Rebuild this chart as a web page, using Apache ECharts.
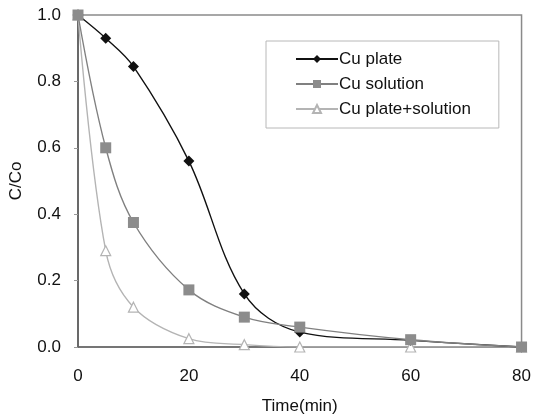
<!DOCTYPE html>
<html>
<head>
<meta charset="utf-8">
<script src="https://cdn.jsdelivr.net/npm/echarts@6/dist/echarts.min.js"></script>
<style>html,body{margin:0;padding:0;background:#fff}#c{width:534px;height:420px}</style>
</head>
<body>
<div id="c"></div>
<script>
var times = [0, 5, 10, 20, 30, 40, 60, 80];
var cuPlate = [1.0, 0.93, 0.845, 0.56, 0.16, 0.045, 0.02, 0.0];
var cuSolution = [1.0, 0.60, 0.375, 0.172, 0.09, 0.06, 0.022, 0.0];
var cuPlateSolution = [1.0, 0.29, 0.12, 0.025, 0.007, 0.0, 0.0, 0.0];
var seriesNames = ['Cu plate', 'Cu solution', 'Cu plate+solution'];
var xTicks = [0, 20, 40, 60, 80];
var yTicks = [0.0, 0.2, 0.4, 0.6, 0.8, 1.0];

function pairs(vals) { return times.map(function (t, i) { return [t, vals[i]]; }); }

var chart = echarts.init(document.getElementById('c'), null, {renderer: 'canvas'});
var font = 'Liberation Sans, Arial, sans-serif';
chart.setOption({
  animation: false,
  backgroundColor: '#fff',
  grid: {left: 78, right: 10, top: 15, bottom: 72, show: true, borderColor: '#8a8a8a', borderWidth: 1.5},
  legend: {
    orient: 'vertical', left: 266, top: 41, width: 233,
    padding: [9, 28, 10, 29],
    itemGap: 7, itemWidth: 42, itemHeight: 10,
    borderColor: '#b8b8b8', borderWidth: 1,
    textStyle: {fontFamily: font, fontSize: 17, color: '#111', padding: [0, 0, 0, -4], lineHeight: 18},
    data: seriesNames
  },
  xAxis: {
    type: 'value', min: 0, max: 80, interval: 20,
    name: 'Time(min)', nameLocation: 'middle', nameGap: 51,
    nameTextStyle: {fontFamily: font, fontSize: 17, color: '#111'},
    axisLine: {lineStyle: {color: '#666', width: 1.5}},
    axisTick: {show: false},
    splitLine: {show: false},
    axisLabel: {fontFamily: font, fontSize: 17, color: '#111', margin: 21}
  },
  yAxis: {
    type: 'value', min: 0, max: 1, interval: 0.2,
    name: 'C/Co', nameLocation: 'middle', nameGap: 53, nameRotate: 90,
    nameTextStyle: {fontFamily: font, fontSize: 17, color: '#111'},
    axisLine: {show: true, lineStyle: {color: '#555', width: 1.5}},
    axisTick: {show: true, length: 4, lineStyle: {color: '#999'}},
    splitLine: {show: false},
    axisLabel: {fontFamily: font, fontSize: 17, color: '#111', margin: 17,
      formatter: function (v) { return v.toFixed(1); }}
  },
  series: [
    {
      name: seriesNames[0], type: 'line', smooth: 0.35,
      data: pairs(cuPlate),
      symbol: 'diamond', symbolSize: 11,
      lineStyle: {color: '#111', width: 1.4},
      itemStyle: {color: '#111'},
      z: 3
    },
    {
      name: seriesNames[1], type: 'line', smooth: 0.35,
      data: pairs(cuSolution),
      symbol: 'rect', symbolSize: 11,
      lineStyle: {color: '#808080', width: 1.4},
      itemStyle: {color: '#8c8c8c'},
      z: 4
    },
    {
      name: seriesNames[2], type: 'line', smooth: 0.35,
      data: pairs(cuPlateSolution),
      symbol: 'triangle', symbolSize: 10,
      lineStyle: {color: '#b4b4b4', width: 1.4},
      itemStyle: {color: '#fff', borderColor: '#b4b4b4', borderWidth: 1.2},
      z: 2
    }
  ]
});
</script>
</body>
</html>
